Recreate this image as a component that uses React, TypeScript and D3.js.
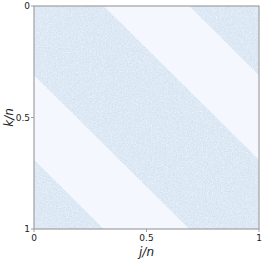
import React from "react";
import * as d3 from "d3";

// Tick values / labels
const xTicks = [0, 0.5, 1];
const yTicks = [0, 0.5, 1];
const tickLabels = ["0", "0.5", "1"];
// Dense bands as ranges of (j/n - k/n)
const bandFrom = [-1.0, -0.31, 0.69];
const bandTo = [-0.69, 0.31, 1.0];

const W = 264;
const H = 259;
const margin = { left: 34, right: 5, top: 6, bottom: 30 };

export default function App() {
  const x = d3.scaleLinear().domain([0, 1]).range([margin.left, W - margin.right]);
  const y = d3.scaleLinear().domain([0, 1]).range([margin.top, H - margin.bottom]);
  const line = d3.line<[number, number]>().x((d) => x(d[0])).y((d) => y(d[1]));
  const bandPath = (a: number, b: number) =>
    line([
      [a - 2, -2],
      [a + 3, 3],
      [b + 3, 3],
      [b - 2, -2],
    ]) + "Z";
  const pw = x(1) - x(0);
  const ph = y(1) - y(0);
  const font = "DejaVu Sans, sans-serif";
  return (
    <svg width={W} height={H} style={{ position: "absolute", left: 0, top: 0, display: "block" }}>
      <defs>
        <clipPath id="plotclip">
          <rect x={x(0)} y={y(0)} width={pw} height={ph} />
        </clipPath>
        <clipPath id="bandclip">
          {bandFrom.map((a, i) => (
            <path key={i} d={bandPath(a, bandTo[i])} />
          ))}
        </clipPath>
        <filter id="speckle" x="0" y="0" width="1" height="1" colorInterpolationFilters="sRGB">
          <feTurbulence type="fractalNoise" baseFrequency="0.8" numOctaves="2" seed="7" result="n" />
          <feColorMatrix
            in="n"
            type="matrix"
            values="0 0 0 0 0.80  0 0 0 0 0.87  0 0 0 0 0.94  2.5 0 0 0 -1.1"
            result="dark"
          />
          <feColorMatrix
            in="n"
            type="matrix"
            values="0 0 0 0 0.95  0 0 0 0 0.97  0 0 0 0 1  0 -3 0 0 1.3"
            result="light"
          />
          <feMerge>
            <feMergeNode in="dark" />
            <feMergeNode in="light" />
          </feMerge>
        </filter>
      </defs>
      <rect x={0} y={0} width={W} height={H} fill="#ffffff" />
      <g clipPath="url(#plotclip)">
        <rect x={x(0)} y={y(0)} width={pw} height={ph} fill="#f4f8fe" />
        <g clipPath="url(#bandclip)">
          <rect x={x(0)} y={y(0)} width={pw} height={ph} fill="#e0eaf5" />
          <rect x={x(0)} y={y(0)} width={pw} height={ph} fill="#fff" filter="url(#speckle)" />
        </g>
      </g>
      <rect x={x(0)} y={y(0)} width={pw} height={ph} fill="none" stroke="#a0a0a0" strokeWidth={1.2} />
      {yTicks.map((t, i) => (
        <g key={"y" + i}>
          <line x1={x(0) - 3} x2={x(0)} y1={y(t)} y2={y(t)} stroke="#a0a0a0" strokeWidth={1} />
          <text x={x(0) - 4} y={y(t)} dy="0.35em" textAnchor="end" fontSize={9} fill="#222" fontFamily={font}>
            {tickLabels[i]}
          </text>
        </g>
      ))}
      {xTicks.map((t, i) => (
        <g key={"x" + i}>
          <line x1={x(t)} x2={x(t)} y1={y(1)} y2={y(1) + 3} stroke="#a0a0a0" strokeWidth={1} />
          <text x={x(t)} y={y(1) + 11.5} textAnchor="middle" fontSize={9} fill="#222" fontFamily={font}>
            {tickLabels[i]}
          </text>
        </g>
      ))}
      <text
        x={(x(0) + x(1)) / 2}
        y={H - 3}
        textAnchor="middle"
        fontSize={12}
        fontStyle="italic"
        fill="#222"
        fontFamily={font}
      >
        j/n
      </text>
      <text
        transform={`translate(13,${(y(0) + y(1)) / 2}) rotate(-90)`}
        textAnchor="middle"
        fontSize={12}
        fontStyle="italic"
        fill="#222"
        fontFamily={font}
      >
        k/n
      </text>
    </svg>
  );
}
